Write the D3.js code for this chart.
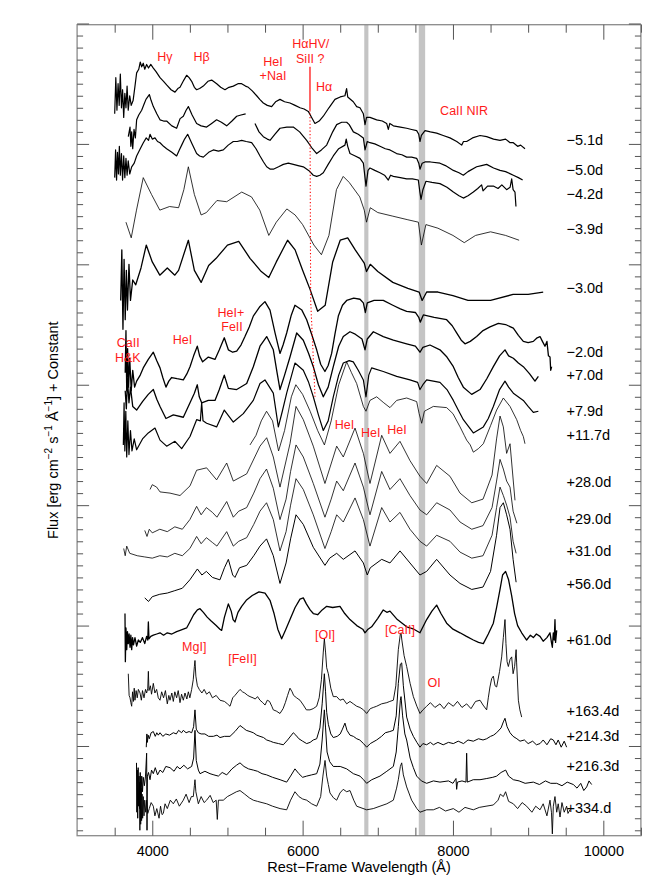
<!DOCTYPE html>
<html>
<head>
<meta charset="utf-8">
<script src="https://cdn.jsdelivr.net/npm/d3@7"></script>
<style>
  body { margin: 0; background: #fff; }
  svg { font-family: "Liberation Sans", Arial, Helvetica, sans-serif; }
</style>
</head>
<body>
<svg id="chart" width="664" height="886"></svg>
<script>
// spectra: [rest wavelength (A), flux + constant]
var specM51 = [[3500,5.25],[3515,5.55],[3530,5.28],[3545,5.50],[3560,5.32],[3575,5.58],[3590,5.30],[3605,5.45],[3620,5.22],[3635,5.42],[3650,5.30],[3665,5.48],[3680,5.28],[3700,5.40],[3720,5.32],[3745,5.36],[3770,5.48],[3792,5.59],[3820,5.62],[3840,5.68],[3859,5.64],[3880,5.67],[3900,5.62],[3925,5.66],[3950,5.63],[3980,5.66],[4014,5.63],[4050,5.60],[4103,5.55],[4150,5.52],[4191,5.49],[4250,5.45],[4302,5.43],[4340,5.46],[4369,5.47],[4420,5.53],[4457,5.57],[4490,5.55],[4524,5.52],[4560,5.47],[4590,5.45],[4630,5.46],[4679,5.48],[4740,5.52],[4790,5.53],[4857,5.50],[4910,5.47],[4967,5.45],[5020,5.47],[5078,5.48],[5140,5.50],[5189,5.50],[5240,5.48],[5278,5.47],[5330,5.44],[5389,5.40],[5430,5.37],[5477,5.34],[5530,5.32],[5588,5.31],[5640,5.35],[5699,5.37],[5760,5.35],[5832,5.34],[5900,5.32],[5965,5.30],[6020,5.29],[6076,5.27],[6120,5.22],[6164,5.17],[6220,5.19],[6275,5.23],[6350,5.30],[6430,5.37],[6500,5.39],[6563,5.40],[6585,5.46],[6600,5.39],[6674,5.35],[6719,5.31],[6763,5.30],[6808,5.25],[6830,5.16],[6850,5.22],[6896,5.22],[6985,5.20],[7060,5.19],[7118,5.17],[7140,5.12],[7160,5.17],[7207,5.15],[7300,5.14],[7384,5.13],[7450,5.12],[7517,5.11],[7545,5.08],[7561,5.02],[7580,5.07],[7628,5.11],[7700,5.10],[7783,5.09],[7870,5.07],[7960,5.05],[8050,5.02],[8116,4.99],[8140,5.02],[8182,5.02],[8260,5.05],[8360,5.07],[8448,5.06],[8540,5.04],[8626,5.03],[8700,5.04],[8760,5.01],[8803,5.01],[8860,4.98],[8900,4.99],[8958,4.96]];
var specM50 = [[3681,5.06],[3704,5.14],[3715,4.98],[3726,5.10],[3740,4.96],[3757,5.12],[3775,5.05],[3792,5.20],[3820,5.24],[3859,5.28],[3890,5.33],[3916,5.37],[3961,5.41],[3985,5.36],[4014,5.31],[4060,5.25],[4103,5.20],[4150,5.19],[4191,5.19],[4260,5.15],[4324,5.13],[4370,5.21],[4413,5.23],[4450,5.28],[4480,5.31],[4530,5.24],[4590,5.17],[4650,5.15],[4723,5.14],[4790,5.17],[4856,5.20],[4920,5.18],[4990,5.15],[5060,5.19],[5123,5.23],[5180,5.24],[5242,5.25],[5300,null],[5366,5.17],[5420,5.10],[5477,5.06],[5530,5.04],[5566,5.03],[5630,5.08],[5699,5.13],[5790,5.14],[5876,5.14],[5960,5.10],[6054,5.03],[6120,4.97],[6187,4.92],[6250,4.95],[6320,4.99],[6400,5.10],[6453,5.16],[6520,5.18],[6586,5.18],[6620,5.16],[6675,5.10],[6740,5.08],[6808,5.05],[6830,4.95],[6860,5.02],[6896,5.01],[6960,5.00],[7029,4.98],[7100,4.96],[7162,4.95],[7250,4.92],[7320,4.91],[7384,4.89],[7450,4.89],[7517,4.88],[7545,4.84],[7561,4.79],[7590,4.84],[7628,4.85],[7700,4.85],[7827,4.84],[7900,4.82],[8005,4.78],[8080,4.76],[8138,4.74],[8200,4.77],[8315,4.81],[8380,4.82],[8448,4.83],[8540,4.80],[8626,4.78],[8700,4.77],[8803,4.74],[8870,4.72],[8927,4.70]];
var specM42 = [[3500,4.72],[3512,4.95],[3525,4.70],[3537,4.93],[3550,4.75],[3562,4.98],[3575,4.74],[3590,4.92],[3605,4.70],[3620,4.90],[3635,4.72],[3650,4.88],[3665,4.74],[3680,4.86],[3700,4.75],[3726,4.81],[3760,4.84],[3792,4.90],[3840,4.96],[3881,5.01],[3920,5.05],[3950,5.03],[3970,5.08],[4000,5.04],[4036,5.05],[4070,5.02],[4103,5.01],[4150,4.98],[4191,4.96],[4260,4.93],[4324,4.90],[4360,4.95],[4391,4.99],[4430,5.04],[4471,5.08],[4530,5.00],[4590,4.92],[4630,4.90],[4679,4.89],[4750,4.93],[4812,4.95],[4880,4.94],[4945,4.95],[5010,4.99],[5078,5.02],[5130,5.02],[5189,5.03],[5250,5.02],[5322,5.01],[5380,4.96],[5433,4.90],[5480,4.85],[5522,4.81],[5570,4.79],[5610,4.79],[5680,4.81],[5743,4.83],[5810,4.84],[5876,4.83],[5940,4.82],[6009,4.81],[6080,4.78],[6142,4.74],[6187,4.73],[6230,4.74],[6275,4.76],[6340,4.83],[6408,4.90],[6480,4.96],[6563,4.99],[6580,5.04],[6600,4.98],[6630,4.92],[6700,4.90],[6763,4.88],[6808,4.84],[6843,4.65],[6870,4.78],[6896,4.80],[6960,4.78],[7029,4.76],[7090,4.74],[7140,4.70],[7170,4.74],[7207,4.73],[7300,4.72],[7384,4.71],[7460,4.71],[7539,4.70],[7560,4.60],[7575,4.54],[7600,4.62],[7641,4.69],[7720,4.68],[7827,4.67],[7920,4.64],[8005,4.60],[8080,4.57],[8138,4.55],[8200,4.57],[8271,4.60],[8330,4.63],[8381,4.66],[8400,4.61],[8460,4.65],[8537,4.65],[8600,4.63],[8650,4.66],[8714,4.62],[8760,4.64],[8781,4.71],[8800,4.62],[8825,4.60],[8838,4.48]];
var specM39 = [[3650,4.35],[3720,4.22],[3790,4.45],[3880,4.72],[3990,4.58],[4100,4.45],[4230,4.48],[4350,4.47],[4420,4.62],[4480,4.81],[4560,4.58],[4650,4.41],[4720,4.43],[4860,4.53],[4990,4.52],[5190,4.60],[5320,4.56],[5430,4.45],[5550,4.24],[5650,4.35],[5790,4.46],[5900,4.41],[6000,4.33],[6150,4.16],[6250,4.08],[6350,4.24],[6450,4.62],[6540,4.73],[6620,4.68],[6760,4.56],[6820,4.45],[6850,4.35],[6900,4.47],[7000,4.43],[7200,4.40],[7400,4.37],[7540,4.35],[7580,4.16],[7640,4.33],[7800,4.30],[8000,4.24],[8150,4.18],[8300,4.24],[8500,4.27],[8700,4.24],[8880,4.20]];
var specM30 = [[3580,3.70],[3595,4.12],[3610,3.46],[3625,4.04],[3640,3.54],[3655,3.95],[3670,3.62],[3690,4.00],[3710,3.70],[3740,3.87],[3780,3.83],[3850,3.97],[3920,4.16],[4000,4.02],[4100,3.91],[4200,3.97],[4300,3.91],[4350,3.95],[4480,4.20],[4560,3.95],[4650,3.85],[4750,3.99],[4850,4.05],[5000,4.16],[5150,4.19],[5300,4.05],[5450,3.94],[5550,3.89],[5650,4.02],[5800,4.20],[5900,4.12],[6000,3.95],[6100,3.79],[6200,3.61],[6300,3.66],[6400,4.02],[6500,4.20],[6600,4.22],[6700,4.12],[6820,4.01],[6850,3.94],[6900,4.00],[7000,3.94],[7200,3.85],[7400,3.80],[7550,3.77],[7590,3.70],[7650,3.77],[7800,3.77],[8000,3.74],[8200,3.70],[8500,3.70],[8800,3.75],[9000,3.75],[9200,3.77]];
var specM20 = [[3640,3.10],[3650,3.45],[3660,2.95],[3672,3.30],[3685,2.98],[3700,3.22],[3720,2.95],[3740,3.12],[3765,2.98],[3792,3.03],[3840,3.08],[3880,3.14],[3947,3.21],[4014,3.27],[4060,3.20],[4103,3.14],[4140,3.06],[4182,2.98],[4220,3.03],[4258,3.06],[4330,3.05],[4413,3.04],[4460,3.09],[4502,3.15],[4550,3.24],[4599,3.32],[4630,3.24],[4670,3.19],[4746,3.23],[4834,3.21],[4892,3.29],[4958,3.39],[5012,3.29],[5070,3.27],[5123,3.28],[5180,3.33],[5233,3.40],[5290,3.48],[5344,3.57],[5433,3.65],[5499,3.69],[5566,3.62],[5633,3.43],[5699,3.26],[5740,3.33],[5788,3.43],[5850,3.58],[5898,3.66],[5990,3.62],[6054,3.54],[6120,3.42],[6187,3.29],[6240,3.17],[6297,3.11],[6340,3.16],[6386,3.26],[6430,3.42],[6475,3.57],[6530,3.66],[6586,3.70],[6680,3.72],[6763,3.71],[6808,3.68],[6835,3.60],[6860,3.68],[6950,3.70],[7073,3.70],[7200,3.66],[7300,3.63],[7384,3.61],[7500,3.60],[7545,3.56],[7565,3.52],[7606,3.58],[7750,3.56],[7916,3.54],[7990,3.49],[8049,3.43],[8110,3.37],[8160,3.34],[8230,3.36],[8315,3.40],[8400,3.45],[8493,3.48],[8604,3.51],[8700,3.50],[8803,3.47],[8870,3.41],[8936,3.36],[9000,3.35],[9069,3.36],[9120,3.39],[9158,3.40],[9190,3.36],[9224,3.32],[9250,3.36],[9270,3.24],[9291,3.23],[9300,3.12],[9313,3.15]];
var specP70 = [[3640,2.95],[3655,2.80],[3670,3.05],[3690,2.85],[3710,2.98],[3740,2.82],[3792,2.79],[3870,2.86],[3947,2.92],[4014,2.96],[4060,2.88],[4103,2.82],[4182,2.72],[4280,2.75],[4413,2.73],[4502,2.85],[4560,2.93],[4599,3.00],[4625,2.90],[4657,2.85],[4746,2.87],[4834,2.87],[4892,2.96],[4958,3.08],[5012,2.97],[5123,2.96],[5256,3.01],[5344,3.15],[5433,3.32],[5522,3.40],[5610,3.29],[5660,3.10],[5699,2.96],[5760,3.08],[5832,3.23],[5921,3.43],[6009,3.37],[6080,3.26],[6142,3.15],[6210,3.00],[6275,2.90],[6340,2.98],[6408,3.15],[6480,3.32],[6541,3.40],[6630,3.44],[6700,3.42],[6790,3.38],[6830,3.29],[6860,3.38],[6941,3.44],[7073,3.40],[7207,3.37],[7384,3.34],[7500,3.32],[7561,3.27],[7600,3.31],[7694,3.33],[7827,3.29],[7920,3.23],[8005,3.15],[8070,3.06],[8138,2.98],[8249,2.92],[8360,2.96],[8450,3.05],[8537,3.15],[8620,3.24],[8692,3.29],[8740,3.24],[8803,3.22],[8870,3.18],[8936,3.15],[9020,3.09],[9091,3.03],[9136,3.07]];
var specP79 = [[3615,2.50],[3625,2.85],[3635,2.45],[3648,2.78],[3660,2.40],[3675,2.70],[3690,2.42],[3710,2.62],[3730,2.45],[3760,2.55],[3792,2.46],[3870,2.55],[3947,2.60],[4036,2.64],[4103,2.54],[4191,2.49],[4302,2.53],[4391,2.47],[4502,2.57],[4590,2.71],[4640,2.70],[4657,2.85],[4675,2.70],[4723,2.68],[4856,2.65],[4958,2.79],[5078,2.69],[5211,2.76],[5344,2.87],[5433,3.01],[5499,3.04],[5560,2.98],[5610,2.93],[5677,2.65],[5730,2.78],[5788,2.93],[5898,3.18],[6009,3.12],[6080,3.02],[6142,2.90],[6210,2.75],[6275,2.62],[6340,2.70],[6408,2.90],[6480,3.08],[6541,3.18],[6620,3.20],[6674,3.19],[6740,3.12],[6808,3.04],[6843,2.90],[6880,3.08],[6918,3.14],[7073,3.11],[7251,3.07],[7428,3.04],[7530,3.02],[7561,2.96],[7600,3.00],[7650,3.04],[7827,3.02],[7920,2.96],[8005,2.87],[8070,2.79],[8138,2.71],[8271,2.60],[8404,2.65],[8470,2.72],[8537,2.82],[8620,2.96],[8692,3.03],[8740,2.98],[8803,2.93],[8936,2.87],[9000,2.82],[9069,2.77],[9136,2.78]];
var specP117 = [[5300,2.50],[5380,2.58],[5450,2.70],[5520,2.78],[5600,2.70],[5680,2.45],[5760,2.62],[5850,2.90],[5910,3.00],[6000,2.92],[6100,2.78],[6200,2.62],[6290,2.50],[6380,2.70],[6480,3.00],[6586,3.19],[6650,3.10],[6719,3.01],[6780,2.88],[6808,2.82],[6843,2.78],[6896,2.87],[6985,2.90],[7080,2.85],[7162,2.81],[7251,2.87],[7384,2.89],[7517,2.86],[7550,2.76],[7584,2.68],[7620,2.78],[7650,2.79],[7739,2.82],[7916,2.81],[8000,2.76],[8094,2.65],[8150,2.58],[8182,2.54],[8230,2.50],[8271,2.44],[8340,2.47],[8404,2.51],[8500,2.66],[8581,2.79],[8670,2.89],[8759,2.82],[8848,2.71],[8900,2.62],[8936,2.57],[8958,2.51]];
var specP280 = [[3970,2.13],[4000,2.17],[4058,2.15],[4103,2.11],[4236,2.10],[4369,2.08],[4502,2.16],[4590,2.29],[4723,2.31],[4856,2.21],[4990,2.35],[5078,2.20],[5256,2.26],[5433,2.49],[5522,2.56],[5610,2.40],[5699,2.15],[5832,2.51],[5912,2.82],[6009,2.71],[6142,2.49],[6297,2.18],[6453,2.49],[6541,2.40],[6697,2.64],[6808,2.43],[6896,2.18],[7052,2.58],[7162,2.43],[7295,2.53],[7428,2.37],[7561,2.24],[7650,2.18],[7783,2.33],[7960,2.24],[8094,2.10],[8250,2.02],[8400,2.05],[8520,2.25],[8580,2.55],[8626,2.74],[8670,2.65],[8714,2.43],[8759,2.51],[8825,2.04]];
var specP290 = [[3900,1.79],[3930,1.74],[3960,1.80],[4000,1.77],[4100,1.80],[4200,1.78],[4300,1.82],[4400,1.80],[4500,1.88],[4590,1.99],[4650,1.92],[4720,1.98],[4800,1.94],[4860,1.90],[4990,2.03],[5078,1.90],[5150,1.95],[5256,1.98],[5350,2.10],[5433,2.22],[5520,2.30],[5610,2.14],[5699,1.88],[5780,2.05],[5840,2.28],[5912,2.50],[6009,2.40],[6142,2.18],[6297,1.90],[6380,2.05],[6453,2.20],[6541,2.12],[6697,2.35],[6808,2.15],[6896,1.92],[7052,2.28],[7162,2.13],[7295,2.22],[7428,2.08],[7561,1.96],[7650,1.92],[7783,2.02],[7960,1.96],[8094,1.86],[8250,1.80],[8400,1.83],[8520,1.98],[8580,2.20],[8626,2.38],[8670,2.30],[8714,2.20],[8759,2.15],[8800,1.95],[8850,1.85]];
var specP310 = [[3620,1.64],[3640,1.58],[3660,1.66],[3700,1.60],[3800,1.58],[3900,1.57],[4000,1.56],[4100,1.58],[4200,1.57],[4300,1.60],[4400,1.58],[4500,1.64],[4590,1.74],[4650,1.68],[4720,1.73],[4800,1.69],[4860,1.66],[4990,1.78],[5078,1.66],[5150,1.70],[5256,1.73],[5350,1.84],[5433,1.95],[5520,2.02],[5610,1.88],[5699,1.62],[5780,1.78],[5840,2.00],[5912,2.22],[6009,2.13],[6142,1.92],[6297,1.64],[6380,1.78],[6453,1.92],[6541,1.86],[6697,2.06],[6808,1.88],[6896,1.66],[7052,1.98],[7162,1.86],[7295,1.94],[7428,1.80],[7561,1.70],[7650,1.66],[7783,1.75],[7960,1.70],[8094,1.61],[8250,1.56],[8400,1.58],[8520,1.75],[8580,1.98],[8626,2.15],[8670,2.08],[8714,2.00],[8759,1.90],[8800,1.70],[8840,1.60]];
var specP560 = [[3900,1.23],[3950,1.20],[4000,1.24],[4100,1.26],[4200,1.27],[4300,1.29],[4400,1.31],[4500,1.38],[4600,1.47],[4660,1.42],[4720,1.45],[4800,1.40],[4900,1.38],[4960,1.48],[5012,1.55],[5070,1.42],[5100,1.40],[5160,1.48],[5256,1.50],[5350,1.58],[5433,1.66],[5520,1.72],[5610,1.58],[5699,1.35],[5780,1.52],[5840,1.72],[5912,1.92],[6009,1.84],[6142,1.65],[6297,1.50],[6360,1.56],[6453,1.60],[6541,1.55],[6697,1.62],[6808,1.52],[6860,1.42],[6900,1.48],[7052,1.55],[7162,1.52],[7295,1.62],[7428,1.52],[7561,1.42],[7650,1.45],[7783,1.55],[7960,1.42],[8094,1.35],[8250,1.30],[8400,1.32],[8500,1.45],[8580,1.75],[8626,1.98],[8670,2.02],[8714,1.92],[8759,1.80],[8800,1.55],[8840,1.36]];
var specP610 = [[3637,1.10],[3642,0.70],[3650,0.98],[3660,0.80],[3670,0.95],[3681,0.85],[3692,0.93],[3704,0.82],[3715,0.92],[3726,0.80],[3738,0.90],[3750,0.84],[3770,0.90],[3792,0.83],[3815,0.88],[3840,0.86],[3870,0.90],[3900,0.85],[3925,0.91],[3940,0.88],[3948,1.03],[3956,0.89],[3980,0.91],[4014,0.92],[4060,0.93],[4103,0.94],[4150,0.92],[4200,0.94],[4260,0.93],[4324,0.95],[4370,0.96],[4413,0.97],[4457,0.98],[4500,1.03],[4550,1.09],[4600,1.13],[4635,1.14],[4680,1.11],[4730,1.07],[4780,1.04],[4850,1.00],[4900,0.97],[4923,0.96],[4960,1.07],[5012,1.18],[5050,1.12],[5075,1.05],[5100,1.03],[5140,1.11],[5189,1.16],[5250,1.21],[5330,1.25],[5420,1.28],[5500,1.27],[5566,1.21],[5620,1.10],[5670,0.97],[5721,0.89],[5770,0.96],[5832,1.05],[5900,1.15],[5965,1.22],[6009,1.23],[6050,1.18],[6100,1.13],[6142,1.10],[6200,1.09],[6260,1.13],[6320,1.16],[6400,1.15],[6497,1.16],[6560,1.10],[6630,1.05],[6720,1.00],[6800,0.97],[6830,0.94],[6870,0.97],[6918,0.99],[7000,1.06],[7073,1.13],[7120,1.11],[7162,1.12],[7260,1.05],[7384,0.99],[7480,0.97],[7561,0.94],[7610,1.00],[7650,1.05],[7720,1.12],[7783,1.17],[7840,1.10],[7916,1.02],[8000,0.97],[8094,0.94],[8180,0.91],[8271,0.88],[8340,0.86],[8404,0.85],[8470,0.93],[8537,1.02],[8580,1.15],[8626,1.30],[8660,1.42],[8700,1.45],[8740,1.38],[8780,1.25],[8820,1.10],[8860,1.00],[8914,0.94],[8980,0.88],[9030,0.92],[9069,0.90],[9110,0.93],[9158,0.91],[9200,0.87],[9250,0.90],[9291,0.94],[9310,0.86],[9322,0.82],[9335,0.94],[9347,0.88],[9357,1.05],[9365,0.86],[9380,0.96]];
var specP1634 = [[3681,0.60],[3692,0.42],[3704,0.40],[3715,0.36],[3726,0.33],[3738,0.45],[3750,0.37],[3760,0.48],[3770,0.38],[3785,0.46],[3800,0.40],[3815,0.47],[3837,0.44],[3855,0.38],[3870,0.46],[3890,0.40],[3910,0.47],[3925,0.44],[3940,0.48],[3948,0.62],[3956,0.46],[3975,0.50],[3990,0.43],[4014,0.52],[4035,0.44],[4058,0.47],[4080,0.40],[4103,0.38],[4125,0.45],[4150,0.40],[4175,0.46],[4200,0.35],[4220,0.42],[4236,0.38],[4260,0.44],[4280,0.37],[4300,0.45],[4324,0.40],[4345,0.46],[4369,0.36],[4390,0.43],[4413,0.38],[4435,0.44],[4460,0.39],[4480,0.45],[4500,0.40],[4524,0.47],[4545,0.55],[4560,0.66],[4568,0.71],[4580,0.58],[4600,0.50],[4625,0.47],[4660,0.44],[4690,0.47],[4723,0.43],[4760,0.45],[4800,0.40],[4850,0.42],[4901,0.38],[4960,0.37],[5000,0.35],[5034,0.33],[5070,0.40],[5100,0.42],[5140,0.45],[5167,0.47],[5200,0.45],[5230,0.44],[5270,0.42],[5300,0.41],[5340,0.40],[5370,0.39],[5400,0.41],[5433,0.38],[5470,0.36],[5500,0.34],[5530,0.38],[5560,0.37],[5590,0.33],[5610,0.30],[5650,0.29],[5699,0.27],[5740,0.31],[5770,0.36],[5800,0.42],[5832,0.48],[5860,0.45],[5880,0.42],[5920,0.40],[5965,0.38],[6010,0.34],[6050,0.30],[6098,0.30],[6140,0.31],[6187,0.33],[6220,0.40],[6250,0.55],[6275,0.78],[6289,0.89],[6305,0.78],[6320,0.65],[6342,0.60],[6375,0.48],[6408,0.41],[6453,0.41],[6497,0.38],[6540,0.39],[6586,0.35],[6630,0.37],[6675,0.35],[6720,0.33],[6763,0.32],[6810,0.30],[6852,0.27],[6900,0.31],[6940,0.32],[6985,0.33],[7050,0.35],[7120,0.36],[7160,0.37],[7207,0.38],[7240,0.50],[7273,0.80],[7300,0.93],[7309,0.94],[7320,0.88],[7350,0.75],[7384,0.66],[7430,0.52],[7473,0.41],[7520,0.33],[7561,0.27],[7600,0.30],[7650,0.33],[7700,0.36],[7760,0.32],[7827,0.35],[7880,0.31],[7940,0.36],[8005,0.33],[8060,0.37],[8120,0.32],[8182,0.35],[8240,0.31],[8300,0.37],[8360,0.38],[8400,0.34],[8448,0.30],[8470,0.40],[8492,0.49],[8515,0.56],[8537,0.58],[8560,0.50],[8581,0.49],[8620,0.62],[8648,0.74],[8670,0.90],[8692,1.05],[8705,0.85],[8720,0.70],[8737,0.66],[8760,0.72],[8781,0.74],[8800,0.60],[8820,0.66],[8840,0.80],[8847,0.69],[8870,0.38],[8890,0.30],[8914,0.24]];
var specP2143 = [[3920,-0.01],[3928,0.10],[3935,0.03],[3945,0.09],[3960,0.06],[3985,0.11],[4014,0.12],[4040,0.08],[4060,0.11],[4080,0.09],[4103,0.11],[4140,0.08],[4180,0.10],[4230,0.09],[4280,0.11],[4320,0.10],[4350,0.13],[4390,0.11],[4413,0.13],[4450,0.11],[4490,0.12],[4524,0.11],[4550,0.16],[4568,0.30],[4585,0.14],[4613,0.11],[4650,0.10],[4700,0.10],[4750,0.08],[4812,0.08],[4860,0.09],[4901,0.07],[4960,0.08],[5034,0.08],[5100,0.12],[5140,0.15],[5167,0.17],[5210,0.15],[5250,0.13],[5300,0.12],[5344,0.11],[5390,0.09],[5433,0.08],[5480,0.07],[5522,0.05],[5570,0.04],[5610,0.03],[5680,0.02],[5743,0.01],[5800,0.05],[5876,0.11],[5910,0.09],[5950,0.06],[6000,0.04],[6054,0.02],[6100,0.03],[6142,0.05],[6187,0.06],[6230,0.15],[6260,0.35],[6289,0.60],[6305,0.45],[6320,0.28],[6342,0.18],[6375,0.10],[6408,0.07],[6460,0.08],[6500,0.10],[6530,0.14],[6563,0.19],[6590,0.13],[6630,0.09],[6675,0.08],[6720,0.06],[6760,0.05],[6810,0.02],[6852,-0.01],[6900,0.02],[6985,0.05],[7050,0.08],[7100,0.11],[7160,0.12],[7207,0.13],[7245,0.25],[7273,0.52],[7300,0.68],[7318,0.69],[7340,0.50],[7384,0.24],[7430,0.14],[7473,0.08],[7520,0.03],[7561,-0.01],[7600,0.02],[7650,0.01],[7700,0.03],[7739,0.01],[7800,0.03],[7870,0.01],[7940,0.03],[8005,0.02],[8070,0.04],[8140,0.02],[8200,0.05],[8271,0.04],[8340,0.06],[8400,0.05],[8448,0.06],[8500,0.08],[8540,0.09],[8581,0.11],[8640,0.15],[8670,0.20],[8692,0.23],[8720,0.16],[8759,0.11],[8800,0.08],[8850,0.06],[8892,0.04],[8950,0.05],[9000,0.02],[9060,0.04],[9110,0.01],[9158,0.02],[9200,0.05],[9250,0.01],[9300,0.06],[9335,0.05],[9370,0.01],[9400,0.05],[9440,-0.01],[9480,0.04],[9512,-0.01]];
var specP2163 = [[3790,-0.14],[3795,-0.55],[3800,-0.20],[3806,-0.60],[3812,-0.18],[3818,-0.50],[3825,-0.25],[3832,-0.52],[3840,-0.22],[3850,-0.45],[3860,-0.25],[3870,-0.38],[3880,-0.26],[3895,-0.33],[3910,-0.25],[3925,-0.06],[3930,-0.70],[3935,-0.25],[3950,-0.22],[3970,-0.28],[3990,-0.20],[4014,-0.23],[4040,-0.18],[4070,-0.24],[4103,-0.20],[4140,-0.22],[4180,-0.17],[4236,-0.18],[4290,-0.21],[4330,-0.17],[4369,-0.19],[4420,-0.16],[4470,-0.19],[4524,-0.17],[4550,-0.10],[4568,0.13],[4585,-0.12],[4613,-0.20],[4635,-0.23],[4700,-0.21],[4768,-0.23],[4820,-0.24],[4879,-0.25],[4930,-0.22],[4990,-0.24],[5060,-0.19],[5120,-0.16],[5167,-0.14],[5220,-0.17],[5280,-0.19],[5344,-0.20],[5400,-0.21],[5460,-0.23],[5522,-0.24],[5600,-0.26],[5700,-0.28],[5788,-0.30],[5840,-0.25],[5898,-0.19],[5950,-0.23],[6000,-0.26],[6054,-0.25],[6120,-0.24],[6187,-0.23],[6230,-0.15],[6260,0.05],[6289,0.30],[6305,0.15],[6325,-0.05],[6360,-0.13],[6408,-0.17],[6470,-0.17],[6500,-0.17],[6586,-0.19],[6675,-0.23],[6763,-0.25],[6810,-0.28],[6852,-0.31],[6920,-0.28],[7029,-0.25],[7120,-0.21],[7207,-0.17],[7245,-0.05],[7273,0.16],[7300,0.38],[7309,0.41],[7330,0.25],[7360,0.10],[7384,0.05],[7430,-0.10],[7473,-0.18],[7517,-0.25],[7580,-0.29],[7650,-0.31],[7740,-0.29],[7827,-0.30],[7940,-0.29],[8000,-0.31],[8040,-0.27],[8049,-0.36],[8060,-0.30],[8120,-0.29],[8173,-0.30],[8182,-0.06],[8191,-0.30],[8270,-0.28],[8360,-0.28],[8450,-0.27],[8530,-0.26],[8581,-0.25],[8640,-0.22],[8701,-0.20],[8740,-0.25],[8803,-0.28],[8880,-0.29],[8960,-0.31],[9069,-0.30],[9150,-0.32],[9230,-0.29],[9300,-0.31],[9380,-0.31],[9450,-0.33],[9520,-0.30],[9601,-0.32],[9650,-0.35],[9700,-0.31],[9740,-0.37],[9779,-0.34],[9810,-0.29],[9845,-0.32]];
var specP334 = [[3830,-0.30],[3835,-0.70],[3840,-0.32],[3846,-0.65],[3852,-0.35],[3858,-0.62],[3865,-0.40],[3872,-0.60],[3880,-0.42],[3890,-0.58],[3900,-0.45],[3912,-0.55],[3925,-0.45],[3940,-0.56],[3960,-0.52],[3985,-0.47],[4014,-0.50],[4035,-0.58],[4060,-0.52],[4090,-0.60],[4110,-0.50],[4130,-0.57],[4147,-0.56],[4170,-0.48],[4200,-0.52],[4240,-0.45],[4280,-0.48],[4320,-0.44],[4360,-0.50],[4413,-0.45],[4450,-0.40],[4490,-0.47],[4520,-0.42],[4546,-0.42],[4560,-0.33],[4568,-0.28],[4580,-0.38],[4613,-0.48],[4650,-0.42],[4690,-0.47],[4723,-0.45],[4770,-0.41],[4810,-0.47],[4850,-0.45],[4865,-0.61],[4880,-0.45],[4945,-0.45],[5000,-0.42],[5060,-0.40],[5120,-0.38],[5167,-0.37],[5230,-0.40],[5290,-0.43],[5344,-0.45],[5400,-0.46],[5460,-0.47],[5522,-0.48],[5600,-0.50],[5700,-0.52],[5788,-0.53],[5840,-0.45],[5898,-0.38],[5950,-0.42],[6000,-0.44],[6054,-0.45],[6120,-0.48],[6187,-0.50],[6240,-0.42],[6270,-0.25],[6298,-0.12],[6320,-0.25],[6342,-0.32],[6364,-0.39],[6410,-0.43],[6453,-0.45],[6497,-0.39],[6540,-0.36],[6586,-0.38],[6630,-0.37],[6680,-0.45],[6719,-0.50],[6763,-0.51],[6852,-0.53],[6940,-0.52],[7029,-0.50],[7120,-0.48],[7207,-0.45],[7250,-0.35],[7273,-0.28],[7300,-0.17],[7318,-0.14],[7340,-0.24],[7384,-0.34],[7450,-0.45],[7520,-0.52],[7561,-0.55],[7650,-0.53],[7739,-0.53],[7820,-0.51],[7900,-0.54],[8005,-0.52],[8080,-0.55],[8160,-0.51],[8271,-0.53],[8350,-0.51],[8440,-0.50],[8537,-0.49],[8600,-0.45],[8630,-0.40],[8670,-0.42],[8700,-0.38],[8740,-0.46],[8803,-0.48],[8860,-0.52],[8920,-0.47],[8980,-0.50],[9050,-0.55],[9100,-0.50],[9158,-0.53],[9200,-0.48],[9250,-0.58],[9291,-0.45],[9310,-0.55],[9322,-0.73],[9335,-0.50],[9357,-0.42],[9380,-0.55],[9400,-0.48],[9424,-0.59],[9450,-0.47],[9480,-0.55],[9512,-0.50],[9530,-0.56],[9557,-0.53]];

// phase labels, their flux level, line widths
var phases = ['\u22125.1d', '\u22125.0d', '\u22124.2d', '\u22123.9d', '\u22123.0d', '\u22122.0d', '+7.0d', '+7.9d', '+11.7d', '+28.0d', '+29.0d', '+31.0d', '+56.0d', '+61.0d', '+163.4d', '+214.3d', '+216.3d', '+334.d'];
var phaseLevels = [4.99, 4.74, 4.54, 4.25, 3.76, 3.23, 3.04, 2.74, 2.54, 2.15, 1.84, 1.58, 1.30, 0.84, 0.25, 0.04, -0.21, -0.56];
var spectra = [specM51, specM50, specM42, specM39, specM30, specM20, specP70, specP79, specP117, specP280, specP290, specP310, specP560, specP610, specP1634, specP2143, specP2163, specP334];
var widths = [1.2, 1.2, 1.2, 0.8, 1.3, 1.3, 1.3, 1.2, 0.8, 0.8, 0.8, 0.8, 1.0, 1.3, 0.9, 1.0, 1.0, 0.9];

// telluric bands (A)
var telluric = [[6820, 6875], [7545, 7630]];

// line identifications: text, wavelength, flux level
var lineIds = [
  ['H\u03b3', 4169, 5.69], ['H\u03b2', 4655, 5.69], ['HeI', 5606, 5.65], ['+NaI', 5606, 5.53],
  ['H\u03b1HV/', 6108, 5.80], ['SiII ?', 6102, 5.67], ['H\u03b1', 6285, 5.44], ['CaII NIR', 8148, 5.24],
  ['CaII', 3681, 3.31], ['H&K', 3675, 3.19], ['HeI', 4402, 3.34], ['HeI+', 5047, 3.56], ['FeII', 5061, 3.45],
  ['HeI', 6557, 2.63], ['HeI', 6906, 2.57], ['HeI', 7256, 2.59],
  ['MgI]', 4558, 0.79], ['[FeII]', 5200, 0.69], ['[OI]', 6298, 0.89], ['[CaII]', 7296, 0.93], ['OI', 7750, 0.49]
];
// HaHV / SiII marker
var markerSolid = [[6098, 5.64], [6098, 5.28]];
var markerDotted = [[6098, 5.28], [6107, 3.70], [6165, 2.90]];

var xMajor = [4000, 6000, 8000, 10000];
var xMinor = [3500, 4500, 5000, 5500, 6500, 7000, 7500, 8500, 9000, 9500, 10500];

var svg = d3.select('#chart');
var x = d3.scaleLinear().domain([3000, 10500]).range([77.1, 640.9]);
var y = d3.scaleLinear().domain([-0.745, 5.99]).range([835.7, 24.7]);

var yMajor = d3.range(0, 7);
var yMinor = d3.range(-7, 60).map(function(d) { return d / 10; }).filter(function(d) { return d % 1 !== 0; });

// telluric bands
svg.selectAll('.band').data(telluric).enter().append('rect')
  .attr('x', function(d) { return x(d[0]); })
  .attr('width', function(d) { return x(d[1]) - x(d[0]); })
  .attr('y', y(5.99)).attr('height', y(-0.745) - y(5.99))
  .attr('fill', '#c4c4c4');

// spectra
var line = d3.line()
  .defined(function(d) { return d[1] !== null; })
  .x(function(d) { return x(d[0]); })
  .y(function(d) { return y(d[1]); });

svg.selectAll('.spec').data(spectra).enter().append('path')
  .attr('class', 'spec')
  .attr('d', line)
  .attr('fill', 'none')
  .attr('stroke', '#000')
  .attr('stroke-width', function(d, i) { return widths[i]; })
  .attr('stroke-linejoin', 'round');

// frame
svg.append('rect')
  .attr('x', x(3000)).attr('y', y(5.99))
  .attr('width', x(10500) - x(3000)).attr('height', y(-0.745) - y(5.99))
  .attr('fill', 'none').attr('stroke', '#8a8a8a').attr('stroke-width', 1.3);

function tidy(g) {
  g.select('.domain').remove();
  g.selectAll('.tick line').attr('stroke', '#555');
}

// x axes (ticks inside)
svg.append('g').attr('transform', 'translate(0,' + y(-0.745) + ')')
  .call(d3.axisBottom(x).tickValues(xMajor).tickSize(-15).tickPadding(10).tickFormat(d3.format('d')))
  .call(tidy)
  .selectAll('text').attr('font-size', 14.5).attr('fill', '#000').attr('font-family', '"Liberation Sans", Arial, sans-serif');
svg.append('g').attr('transform', 'translate(0,' + y(-0.745) + ')')
  .call(d3.axisBottom(x).tickValues(xMinor).tickSize(-8).tickFormat(''))
  .call(tidy);
svg.append('g').attr('transform', 'translate(0,' + y(5.99) + ')')
  .call(d3.axisTop(x).tickValues(xMajor).tickSize(-15).tickFormat(''))
  .call(tidy);
svg.append('g').attr('transform', 'translate(0,' + y(5.99) + ')')
  .call(d3.axisTop(x).tickValues(xMinor).tickSize(-8).tickFormat(''))
  .call(tidy);

// y axes
svg.append('g').attr('transform', 'translate(' + x(3000) + ',0)')
  .call(d3.axisLeft(y).tickValues(yMajor).tickSize(-12).tickFormat(''))
  .call(tidy);
svg.append('g').attr('transform', 'translate(' + x(3000) + ',0)')
  .call(d3.axisLeft(y).tickValues(yMinor).tickSize(-6).tickFormat(''))
  .call(tidy);
svg.append('g').attr('transform', 'translate(' + x(10500) + ',0)')
  .call(d3.axisRight(y).tickValues(yMajor).tickSize(-12).tickFormat(''))
  .call(tidy);
svg.append('g').attr('transform', 'translate(' + x(10500) + ',0)')
  .call(d3.axisRight(y).tickValues(yMinor).tickSize(-6).tickFormat(''))
  .call(tidy);

// HaHV marker
svg.append('path').attr('d', line(markerSolid))
  .attr('stroke', 'red').attr('stroke-width', 1.2).attr('fill', 'none');
svg.append('path').attr('d', line(markerDotted))
  .attr('stroke', 'red').attr('stroke-width', 1.1).attr('stroke-dasharray', '1.2,2.2').attr('fill', 'none');

// line ids
svg.selectAll('.lid').data(lineIds).enter().append('text')
  .attr('x', function(d) { return x(d[1]); })
  .attr('y', function(d) { return y(d[2]); })
  .attr('text-anchor', 'middle')
  .attr('font-size', 12.5)
  .attr('fill', '#ff1a1a')
  .text(function(d) { return d[0]; });

// phases
svg.selectAll('.phase').data(phases).enter().append('text')
  .attr('x', x(9510))
  .attr('y', function(d, i) { return y(phaseLevels[i]); })
  .attr('font-size', 14.5)
  .attr('fill', '#000')
  .text(function(d) { return d; });

// axis titles
svg.append('text')
  .attr('x', (x(3000) + x(10500)) / 2).attr('y', 872)
  .attr('text-anchor', 'middle').attr('font-size', 14.5)
  .text('Rest\u2212Frame Wavelength (\u00c5)');

var yt = svg.append('text')
  .attr('transform', 'translate(58,' + (y(5.99) + y(-0.745)) / 2 + ') rotate(-90)')
  .attr('text-anchor', 'middle').attr('font-size', 14.5);
yt.append('tspan').text('Flux [erg cm');
yt.append('tspan').attr('dy', -6).attr('font-size', 10).text('\u22122');
yt.append('tspan').attr('dy', 6).text(' s');
yt.append('tspan').attr('dy', -6).attr('font-size', 10).text('\u22121');
yt.append('tspan').attr('dy', 6).text(' \u00c5');
yt.append('tspan').attr('dy', -6).attr('font-size', 10).text('\u22121');
yt.append('tspan').attr('dy', 6).text('] + Constant');
</script>
</body>
</html>
